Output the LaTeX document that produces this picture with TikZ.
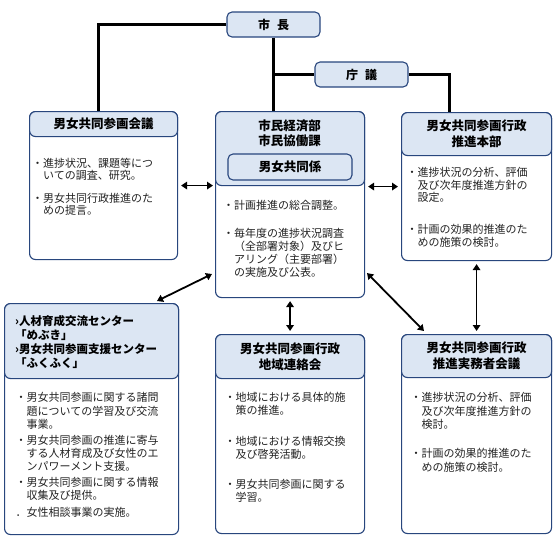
\documentclass[tikz,border=0pt]{standalone}
\usepackage{fontspec}
\setmainfont{Noto Sans CJK JP}
\usetikzlibrary{arrows.meta,calc}
\definecolor{bord}{RGB}{40,70,125}
\definecolor{headfill}{RGB}{220,230,243}
\definecolor{txt}{RGB}{35,35,35}
\newcommand\myind{\hspace*{1em}}
\tikzset{
  panel/.style={draw=bord, line width=1.1pt, rounded corners=6pt, fill=white, inner sep=0pt, anchor=north west},
  head/.style={draw=bord, line width=1.1pt, rounded corners=6pt, fill=headfill, inner sep=0pt, anchor=north west},
  topbox/.style={draw=bord, line width=1.1pt, rounded corners=5pt, fill=headfill, minimum width=93pt, minimum height=25pt, inner sep=0pt, font=\bfseries\fontsize{12}{14}\selectfont},
  title/.style={font=\bfseries\fontsize{12.5}{16}\selectfont, align=center, inner sep=0pt, text=black},
  body/.style={font=\fontsize{11}{12.8}\selectfont, align=left, inner sep=0pt, anchor=north west, text=txt},
  link/.style={line width=2.6pt, black},
  arr/.style={line width=1.8pt, black, {Triangle[width=7.5pt,length=6pt]}-{Triangle[width=7.5pt,length=6pt]}},
}
\begin{document}
\begin{tikzpicture}[x=1pt,y=-1pt]
\useasboundingbox (0,0) rectangle (553,536);
% top boxes
\node[topbox] (M) at (273.5,24.5) {市\hspace{7pt}長};
\node[topbox] (C) at (361.5,74.5) {庁\hspace{7pt}議};
% left panel
\node[panel, minimum width=148pt, minimum height=148pt] (L) at (29,111) {};
\node[head, minimum width=148pt, minimum height=25pt] (Lh) at (29,111) {};
\node[title] (Lt) at (Lh.center) {男女共同参画会議};
\node[body, font=\fontsize{11}{12}\selectfont] (Lb) at (32,157.5) {・進捗状況、課題等につ\\\myind いての調査、研究。\\[11pt]・男女共同行政推進のた\\\myind めの提言。};
% center panel
\node[panel, minimum width=149pt, minimum height=186pt] (K) at (215,111) {};
\node[head, minimum width=149pt, minimum height=74pt] (Kh) at (215,111) {};
\node[title, font=\bfseries\fontsize{12.5}{14.5}\selectfont] (Kt) at (289.5,133) {市民経済部\\市民協働課};
\node[draw=bord, line width=1.1pt, rounded corners=5pt, fill=headfill, minimum width=124pt, minimum height=26pt, inner sep=0pt, font=\bfseries\fontsize{12.5}{14}\selectfont] (Ki) at (290,167) {男女共同係};
\node[body] (Kb) at (223,200.5) {・計画推進の総合調整。\\[15.2pt]・毎年度の進捗状況調査\\\myind（全部署対象）及びヒ\\\myind アリング（主要部署）\\\myind の実施及び公表。};
% right panel
\node[panel, minimum width=150pt, minimum height=148pt] (R) at (401,112) {};
\node[head, minimum width=150pt, minimum height=43pt] (Rh) at (401,112) {};
\node[title] (Rt) at (Rh.center) {男女共同参画行政\\推進本部};
\node[body, font=\fontsize{11}{12.5}\selectfont] (Rb) at (406.5,167.5) {・進捗状況の分析、評価\\\myind 及び次年度推進方針の\\\myind 設定。\\[19.5pt]・計画の効果的推進のた\\\myind めの施策の検討。};
% bottom left panel
\node[panel, minimum width=174pt, minimum height=231pt] (BL) at (4,303) {};
\node[head, minimum width=174pt, minimum height=75pt] (BLh) at (4,303) {};
\node[title, align=left, anchor=north west, font=\bfseries\fontsize{11.5}{14}\selectfont] (BLt) at (15,315.5) {›人材育成交流センター\\「めぶき」\\›男女共同参画支援センター\\「ふくふく」};
\node[body, font=\fontsize{11}{13.3}\selectfont] (BLb) at (15.5,392.5) {・男女共同参画に関する諸問\\\myind 題についての学習及び交流\\\myind 事業。\\[2.5pt]・男女共同参画の推進に寄与\\\myind する人材育成及び女性のエ\\\myind ンパワーメント支援。\\[2pt]・男女共同参画に関する情報\\\myind 収集及び提供。\\[3.5pt]．女性相談事業の実施。};
% bottom center panel
\node[panel, minimum width=149pt, minimum height=199pt] (BC) at (215,334) {};
\node[head, minimum width=149pt, minimum height=44pt] (BCh) at (215,334) {};
\node[title] (BCt) at (BCh.center) {男女共同参画行政\\地域連絡会};
\node[body, font=\fontsize{11}{12.7}\selectfont] (BCb) at (224.5,392.5) {・地域における具体的施\\\myind 策の推進。\\[18pt]・地域における情報交換\\\myind 及び啓発活動。\\[18pt]・男女共同参画に関する\\\myind 学習。};
% bottom right panel
\node[panel, minimum width=150pt, minimum height=199pt] (BR) at (401,334) {};
\node[head, minimum width=150pt, minimum height=43pt] (BRh) at (401,334) {};
\node[title] (BRt) at (BRh.center) {男女共同参画行政\\推進実務者会議};
\node[body, font=\fontsize{11}{13.5}\selectfont] (BRb) at (410.5,392.5) {・進捗状況の分析、評価\\\myind 及び次年度推進方針の\\\myind 検討。\\[15.5pt]・計画の効果的推進のた\\\myind めの施策の検討。};
% hierarchy lines
\draw[link] (M.west) -| ($(L.north)+(-5,0)$);
\draw[link] (M.south) -- (M.south |- K.north);
\draw[link] (M.south |- C.west) -- (C.west);
\draw[link] (C.east) -| ($(R.north)+(-27,0)$);
% arrows
\draw[arr, shorten <=3pt, shorten >=2pt] (L.east) -- (L.east -| K.west);
\draw[arr, shorten <=3pt, shorten >=3pt] (K.east |- R.west) -- (R.west);
\draw[arr, shorten <=3pt, shorten >=3pt] (K.south) -- (BC.north);
\draw[arr, shorten <=3pt, shorten >=3pt] (R.south) -- (BR.north);
\coordinate (d1) at (212,274);
\coordinate (d2) at (157,301);
\coordinate (d3) at (367,273);
\coordinate (d4) at (424,331);
\draw[arr] (d1) -- (d2);
\draw[arr] (d3) -- (d4);
\end{tikzpicture}
\end{document}
